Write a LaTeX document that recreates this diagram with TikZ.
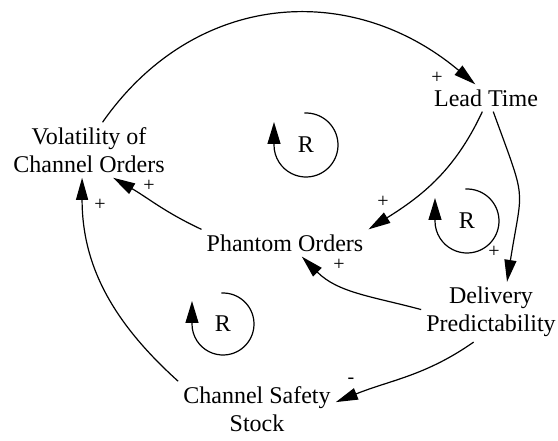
\documentclass[tikz,border=0pt]{standalone}
\usepackage{fontspec}
\setmainfont{Liberation Serif}
\usetikzlibrary{arrows.meta}

\begin{document}
\begin{tikzpicture}[x=1pt, y=1pt,
    var/.style={font=\fontsize{24}{28}\selectfont, align=center, inner sep=5pt},
    pol/.style={font=\fontsize{20}{20}\selectfont, inner sep=0pt},
    link/.style={line width=1.2pt, -{Triangle[length=22pt, width=12pt]}},
    loopline/.style={line width=1.2pt, -{Triangle[length=22pt, width=13pt]}}]
    \useasboundingbox (0,0) rectangle (558,440);
    % variables
    \node[var] (vol) at (89,290) {Volatility of\\Channel Orders};
    \node[var] (lead) at (486,342) {Lead Time};
    \node[var] (phantom) at (285,197) {Phantom Orders};
    \node[var] (deliv) at (491,128) {Delivery\\Predictability};
    \node[var] (safety) at (257,31) {Channel Safety\\Stock};
    % causal links
    \draw[link] (vol.64) to[out=55, in=140, looseness=1.1] (lead.128);
    \draw[link] (lead.-105) to[out=245, in=32] (phantom.north east);
    \draw[link] (lead.-62) to[out=-70, in=81, looseness=1.5] (deliv.62);
    \draw[link] (deliv.178) to[out=165, in=-45] (phantom.-39);
    \draw[link] (phantom.north west) to[out=155, in=-30] (vol.-49);
    \draw[link] (deliv.-120) to[out=215, in=22] (safety.5);
    \draw[link] (safety.north west) to[out=138, in=-90] (vol.-104);
    % polarities
    \foreach \nm/\x/\y/\s in {p1/437/362/+, p2/383/238/+, p3/494/188/+,
        p4/339/175/+, p5/149/254/+, p6/100/235/+, m1/351/59/-}
        \node[pol] (\nm) at (\x,\y) {\s};
    % loops
    \foreach \nm/\x/\y/\r in {r1/306/295/32, r2/467/219/32, r3/223/116/31}
    {
        \node[var] (\nm) at (\x,\y) {R};
        \draw[loopline] ([shift={(93:\r)}]\nm.center) arc[start angle=93, end angle=-180, radius=\r] -- ++(0,23);
    }
\end{tikzpicture}
\end{document}
